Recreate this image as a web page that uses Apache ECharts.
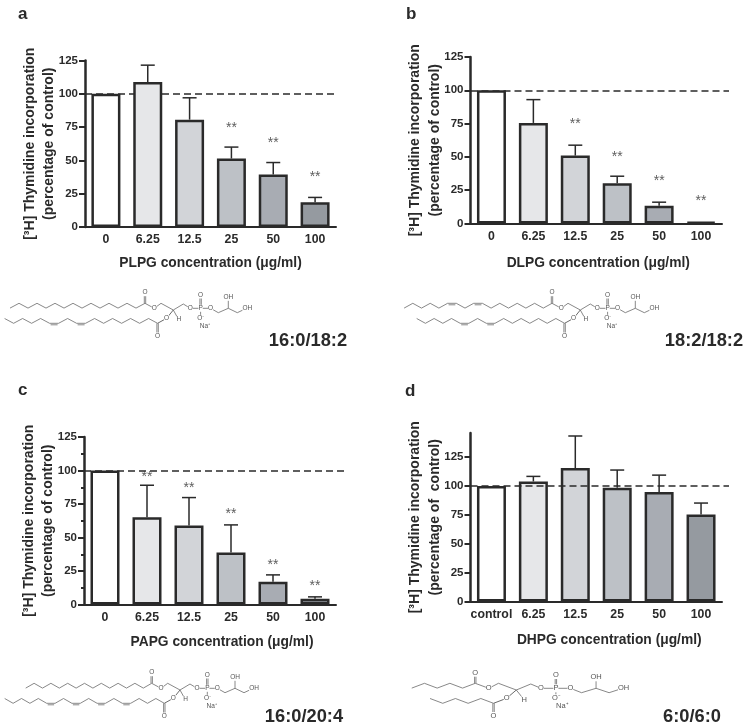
<!DOCTYPE html>
<html>
<head>
<meta charset="utf-8">
<style>html,body{margin:0;padding:0;background:#fff}#c{width:747px;height:726px}</style>
<script src="https://cdn.jsdelivr.net/npm/echarts@6/dist/echarts.min.js"></script>
</head>
<body>
<div id="c"></div>
<script>
// ---- data ----
const doses = ['0', '6.25', '12.5', '25', '50', '100'];
const dosesD = ['control', '6.25', '12.5', '25', '50', '100'];
const yTicks = [0, 25, 50, 75, 100, 125];

const plpgMean = [100, 108.8, 80.6, 51.4, 39.4, 18.5];
const plpgUpper = [null, 121.5, 97, 60, 48.4, 22.2];
const plpgStars = [null, null, null, 75, 64, 38.5];

const dlpgMean = [100, 75.5, 51, 30.3, 13.3, 1.1];
const dlpgUpper = [null, 93, 58.8, 35.5, 16, null];
const dlpgStars = [null, null, 75, 50.5, 32.5, 17.5];

const papgMean = [100, 65.2, 59, 38.8, 16.9, 4.2];
const papgUpper = [null, 89, 79.8, 59.4, 22.1, 5.7];
const papgStars = [null, 96, 87.5, 68, 30, 14.2];

const dhpgMean = [100, 104, 115.6, 98.6, 94.8, 75.4];
const dhpgUpper = [null, 108.4, 143.4, 113.9, 109.5, 85.3];
const dhpgStars = [null, null, null, null, null, null];

const barColors = ['#ffffff', '#e6e7e9', '#d2d4d8', '#bdc1c6', '#a8acb3', '#959aa0'];
const INK = '#2a2a2a';
const FONT = '"Liberation Sans", Arial, sans-serif';

// ---- panel layout ----
const panels = [
  {letter:'a', lx:18, ly:6, cats:doses, mean:plpgMean, upper:plpgUpper, stars:plpgStars, left:85, top:60.5, width:251, height:166.5, max:125,
   xName:'PLPG concentration (\u03bcg/ml)', xShift:0, xGap:29, yLines:['[\u00b3H] Thymidine incorporation','(percentage of control)'], dashEnd:334, dashOver:false, minor:false,
   tag:'16:0/18:2', tx:308, ty:341},
  {letter:'b', lx:406, ly:6, cats:doses, mean:dlpgMean, upper:dlpgUpper, stars:dlpgStars, left:470.5, top:57, width:251.5, height:166.5, max:125,
   xName:'DLPG concentration (\u03bcg/ml)', xShift:4, xGap:33, yLines:['[\u00b3H] Thymidine incorporation','(percentage of control)'], dashEnd:729, dashOver:false, minor:false,
   tag:'18:2/18:2', tx:704, ty:341},
  {letter:'c', lx:18, ly:382, cats:doses, mean:papgMean, upper:papgUpper, stars:papgStars, left:84, top:437, width:252, height:167.5, max:125,
   xName:'PAPG concentration (\u03bcg/ml)', xShift:24, xGap:31, yLines:['[\u00b3H] Thymidine incorporation','(percentage of control)'], dashEnd:347, dashOver:false, minor:true,
   tag:'16:0/20:4', tx:304, ty:717},
  {letter:'d', lx:405, ly:383, cats:dosesD, mean:dhpgMean, upper:dhpgUpper, stars:dhpgStars, left:470.5, top:433, width:251.5, height:168.5, max:146,
   xName:'DHPG concentration (\u03bcg/ml)', xShift:26, xGap:32, yLines:['[\u00b3H] Thymidine incorporation','(percentage of  control)'], dashEnd:729, dashOver:true, minor:false,
   tag:'6:0/6:0', tx:692, ty:717}
];

const grid = [], xAxis = [], yAxis = [], series = [], title = [];

panels.forEach((p, i) => {
  grid.push({left:p.left, top:p.top, width:p.width, height:p.height, containLabel:false});
  xAxis.push({
    type:'category', gridIndex:i, data:p.cats, boundaryGap:true,
    name:p.xName, nameLocation:'middle', nameGap:p.xGap, nameMoveOverlap:false,
    nameTextStyle:{fontFamily:FONT, fontWeight:'bold', fontSize:13.8, color:INK, padding:[0,0,0,p.xShift]},
    axisLine:{onZero:false, lineStyle:{color:INK, width:2}},
    axisTick:{alignWithLabel:true, length:3, lineStyle:{color:INK, width:1.5}},
    axisLabel:{fontFamily:FONT, fontWeight:'bold', fontSize:12.3, color:INK, margin:7, interval:0},
    splitLine:{show:false}
  });
  yAxis.push({
    type:'value', gridIndex:i, min:0, max:p.max, interval:25,
    name:p.yLines.join('\n'), nameLocation:'middle', nameRotate:90, nameGap:26, nameMoveOverlap:false,
    nameTextStyle:{fontFamily:FONT, fontWeight:'bold', fontSize:14, lineHeight:19.5, color:INK},
    axisLine:{show:true, onZero:false, lineStyle:{color:INK, width:2.5}},
    axisTick:{show:true, length:6, customValues:yTicks, lineStyle:{color:INK, width:2}},
    minorTick:{show:p.minor, splitNumber:2, length:3, lineStyle:{color:INK, width:2}},
    axisLabel:{fontFamily:FONT, fontWeight:'bold', fontSize:11.5, color:INK, margin:7, customValues:yTicks},
    splitLine:{show:false}, minorSplitLine:{show:false}
  });

  series.push({
    type:'bar', xAxisIndex:i, yAxisIndex:i, barWidth:29, z:3, silent:true, animation:false,
    data:p.mean.map((v, k) => ({value:v, itemStyle:{color:barColors[k], borderColor:INK, borderWidth:2.5}})),
    markLine:{
      silent:true, symbol:'none', animation:false, z:p.dashOver ? 6 : 1, label:{show:false},
      lineStyle:{type:[7,4], color:INK, width:1.5},
      data:[[{x:p.left, yAxis:100}, {x:p.dashEnd, yAxis:100}]]
    }
  });
  // error bars: stem from the bar top to the upper value, with a cap
  series.push({
    type:'custom', xAxisIndex:i, yAxisIndex:i, z:2, silent:true, animation:false,
    data:p.upper.map((u, k) => [k, p.mean[k], u]).filter(d => d[2] != null),
    renderItem:(params, api) => {
      const a = api.coord([api.value(0), api.value(1)]);
      const b = api.coord([api.value(0), api.value(2)]);
      const st = {stroke:INK, lineWidth:1.5, fill:null};
      return {type:'group', children:[
        {type:'line', shape:{x1:a[0], y1:a[1], x2:b[0], y2:b[1]}, style:st},
        {type:'line', shape:{x1:b[0]-7, y1:b[1], x2:b[0]+7, y2:b[1]}, style:st}
      ]};
    }
  });
  // significance marks
  const starData = p.stars.map((s, k) => s == null ? null : [k, s]).filter(Boolean);
  if (starData.length) series.push({
    type:'scatter', xAxisIndex:i, yAxisIndex:i, symbolSize:1, silent:true, animation:false, z:7,
    itemStyle:{color:'rgba(0,0,0,0)'}, data:starData,
    label:{show:true, position:'inside', formatter:'**', fontFamily:FONT, fontSize:14, color:'#333', offset:[0,1]}
  });

  title.push({text:p.letter, left:p.lx, top:p.ly, padding:0, textStyle:{fontFamily:FONT, fontWeight:'bold', fontSize:17, color:INK}});
  title.push({text:p.tag, left:p.tx, top:p.ty-9, padding:0, textAlign:'center', textStyle:{fontFamily:FONT, fontWeight:'bold', fontSize:18.3, color:INK}});
});

// ---- decorative lipid structures (line drawings, not data) ----
const STROKE = '#6a6a6a';
const structures = [
  {cx:173.3, cy:310, sx:1, sy:1, bond:9, upper:15, lower:17, upFlat:[], lowFlat:[8,11]},
  {cx:580.3, cy:310, sx:1, sy:1, bond:8.7, upper:17, lower:17, upFlat:[8,11], lowFlat:[8,11]},
  {cx:180, cy:690, sx:1, sy:1, bond:8.4, upper:15, lower:19, upFlat:[], lowFlat:[4,7,10,13]},
  {cx:516.3, cy:690, sx:1.45, sy:1, bond:12.7, upper:5, lower:5, upFlat:[], lowFlat:[]}
];
function chainPath(x, y, n, dx, dy, dir, flats) {
  const pts = [[x, y]], doubles = [];
  for (let k = 0; k < n; k++) {
    const flat = flats.includes(k);
    const nx = x - dx, ny = flat ? y : y + dir * dy;
    if (flat) doubles.push([[x - 1, y + 1.5], [nx + 1, y + 1.5]]);
    else dir = -dir;
    x = nx; y = ny; pts.push([x, y]);
  }
  return {pts, doubles};
}
function structureGraphic(c) {
  const X = v => c.cx + v * c.sx, Y = v => c.cy + v * c.sy, P = (a, b) => [X(a), Y(b)];
  const line = (points, w) => ({type:'polyline', shape:{points}, style:{stroke:STROKE, lineWidth:w || 0.8, fill:null}, silent:true});
  const kids = [];
  const dbl = (x, y1, y2) => { kids.push(line([[X(x)-0.7,Y(y1)],[X(x)-0.7,Y(y2)]])); kids.push(line([[X(x)+0.7,Y(y1)],[X(x)+0.7,Y(y2)]])); };
  kids.push(line([P(-28.3,-6.7),P(-19,-1.7),P(-12.3,-6.7),P(0,0),P(10,-6),P(17,-1.7),P(27.3,-1.7),P(37.3,-1.7),P(45,2.7),P(55,-1.7),P(64,2.7),P(73.3,-1.7)]));
  kids.push(line([P(55,-1.7),P(55,-12.7)]));
  kids.push(line([P(27.3,-1.7),P(27.3,8.3)]));
  dbl(27.3,-1.7,-15); dbl(-28.3,-6.7,-17.3); dbl(-15.7,13.3,26);
  kids.push(line([P(0,0),P(-6.7,8.3),P(-15.7,13.3)], 1));
  kids.push(line([P(0,0),P(5,9)], 0.8));
  const up = chainPath(X(-28.3), Y(-6.7), c.upper, c.bond, 4.8, 1, c.upFlat);
  const lo = chainPath(X(-15.7), Y(13.3), c.lower, c.bond, 4.8, -1, c.lowFlat);
  [up, lo].forEach(ch => { kids.push(line(ch.pts)); ch.doubles.forEach(d => kids.push(line(d))); });
  const fs = c.sx > 1 ? 7.5 : 6.5;
  [['O',-19,-1.7],['O',-28.3,-17.3],['O',-6.7,8.3],['O',-15.7,26],['H',5.5,9.5],['O',17,-1.7],['P',27.3,-1.7],['O',27.3,-15],['O\u207b',27.6,8.3],['O',37.3,-1.7],['OH',55,-12.7],['OH',74,-1.7],['Na\u207a',31.7,16]].forEach(t => {
    kids.push({type:'text', silent:true, z:10, style:{text:t[0], x:X(t[1]), y:Y(t[2]), align:'center', verticalAlign:'middle', font:fs+'px '+FONT, fill:'#555', backgroundColor:'#fff'}});
  });
  return {type:'group', silent:true, children:kids};
}

const chart = echarts.init(document.getElementById('c'), null, {renderer:'canvas'});
chart.setOption({
  animation:false, backgroundColor:'#fff',
  title, grid, xAxis, yAxis, series,
  tooltip:{show:false},
  graphic:structures.map(structureGraphic)
});
</script>
</body>
</html>
